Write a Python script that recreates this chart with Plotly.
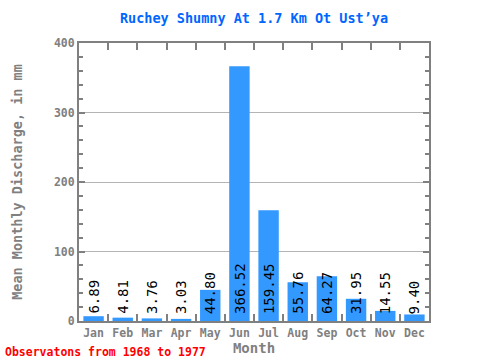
import plotly.graph_objects as go

months = ["Jan", "Feb", "Mar", "Apr", "May", "Jun", "Jul", "Aug", "Sep", "Oct", "Nov", "Dec"]
discharge = [6.89, 4.81, 3.76, 3.03, 44.80, 366.52, 159.45, 55.76, 64.27, 31.95, 14.55, 9.40]
labels = [f"{v:.2f}" for v in discharge]

FONT = "DejaVu Sans Mono"
GREY = "#808080"

fig = go.Figure()
fig.add_trace(go.Bar(x=months, y=discharge, marker=dict(color="#3399ff", line=dict(width=0)),
                     width=0.7, hoverinfo="x+y"))

for m, v, t in zip(months, discharge, labels):
    fig.add_annotation(x=m, y=0, text=t, textangle=-90, showarrow=False,
                       yanchor="bottom", xanchor="center", yshift=5,
                       font=dict(family=FONT, size=14, color="black"))

fig.update_layout(
    width=480, height=360,
    margin=dict(l=79, r=51, t=43, b=39),
    paper_bgcolor="white", plot_bgcolor="white",
    showlegend=False,
    title=dict(text="<b>Ruchey Shumny At 1.7 Km Ot Ust’ya</b>", x=0.5, xanchor="center",
               y=0.95, yanchor="middle", xref="paper", automargin=False,
               font=dict(family=FONT, size=13.5, color="#0066ff")),
    xaxis=dict(type="category", showline=True, linecolor=GREY, linewidth=2, mirror="allticks",
               ticks="inside", tickson="boundaries", ticklen=7, tickwidth=2, tickcolor=GREY,
               showgrid=False, tickangle=0, automargin=False,
               tickfont=dict(family=FONT, size=11.5, color=GREY, weight="bold"),
               title=dict(text="<b>Month</b>", font=dict(family=FONT, size=14, color=GREY), standoff=2)),
    yaxis=dict(range=[0, 400], showline=True, linecolor=GREY, linewidth=2, mirror="allticks",
               ticks="inside", ticklen=6, tickwidth=2, tickcolor=GREY, dtick=100,
               minor=dict(dtick=20, ticks="inside", ticklen=4, tickwidth=2, tickcolor=GREY, showgrid=False),
               showgrid=True, gridcolor="#b4b4b4", gridwidth=1, zeroline=False, automargin=False,
               tickfont=dict(family=FONT, size=11.5, color=GREY, weight="bold"),
               title=dict(text="<b>Mean Monthly Discharge, in mm</b>",
                          font=dict(family=FONT, size=13.5, color=GREY), standoff=28)),
)

fig.add_annotation(x=0, y=0, xref="paper", yref="paper", xanchor="left", yanchor="bottom",
                   xshift=-76, yshift=-40, showarrow=False,
                   text="<b>Observatons from 1968 to 1977</b>",
                   font=dict(family=FONT, size=11.5, color="red"))

fig.write_html("out.html", config={"displayModeBar": False},
               post_script="document.body.style.margin='0';document.body.style.padding='0';")
